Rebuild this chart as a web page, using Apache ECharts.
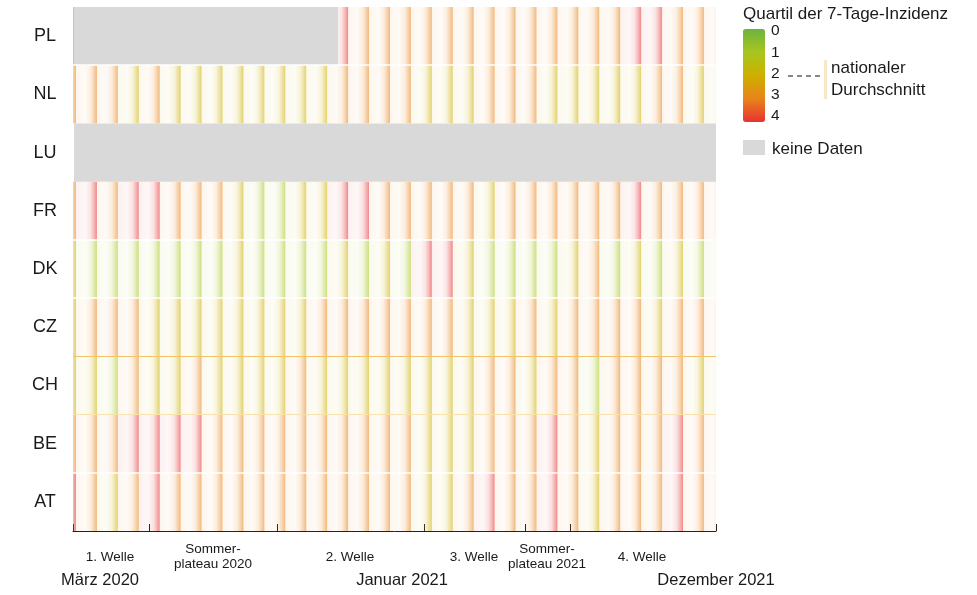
<!DOCTYPE html>
<html>
<head>
<meta charset="utf-8">
<script src="https://cdn.jsdelivr.net/npm/echarts@6/dist/echarts.min.js"></script>
<style>
  html, body { margin: 0; padding: 0; background: #fff; }
  #chart { width: 977px; height: 595px; }
</style>
</head>
<body>
<div id="chart"></div>
<script>
// Länder (von unten nach oben)
const countries = ['AT', 'BE', 'CH', 'CZ', 'DK', 'FR', 'LU', 'NL', 'PL'];

// Quartil der 7-Tage-Inzidenz je Zeitabschnitt (null = keine Daten)
const qAT = [4,3,2,3,4,3,3,3,3,3,3,3,3,3,3,3,3,2,2,3,4,3,3,4,3,2,3,3,3,4,3,3];
const qBE = [3,3,3,4,4,4,4,3,3,3,3,3,3,3,3,3,3,2,2,2,3,3,3,4,3,2,3,3,3,4,3,3];
const qCH = [2,2,1,3,2,2,3,2,2,2,2,3,2,2,2,2,2,2,2,2,3,3,2,3,3,1,3,3,3,3,2,2];
const qCZ = [2,3,3,3,2,2,2,2,2,2,2,2,3,3,3,3,3,3,3,2,2,2,3,2,3,3,3,3,2,3,3,3];
const qDK = [2,1,1,1,1,1,1,1,2,1,1,1,1,2,1,2,1,4,4,2,1,1,1,1,2,3,1,2,1,2,1,1];
const qFR = [3,4,3,4,4,3,3,3,2,1,1,2,2,4,4,3,3,3,3,3,2,3,3,3,3,3,3,4,3,3,3,3];
const qLU = [];
const qNL = [3,3,3,2,3,2,2,2,2,2,2,2,2,3,3,3,3,2,2,2,3,3,3,2,2,2,2,2,3,3,2,2];
const qPL = [4,null,null,null,null,null,null,null,null,null,null,null,null,4,3,3,3,3,3,3,3,3,3,3,3,3,3,4,4,3,3,3];
const quartileRows = [qAT, qBE, qCH, qCZ, qDK, qFR, qLU, qNL, qPL];

// keine Daten: [von, bis, Zeile]
const noDataRanges = [[0.05, 12.66, 8], [0.05, 30.72, 6]];

// Zeitachse
const X_MAX = 30.72;
const CELL_SHIFT = 0.857;
const periodBounds = [0, 3.63, 9.75, 16.77, 21.6, 23.75, 30.72];
const periodCenters = [1.77, 6.69, 13.23, 19.16, 22.65, 27.18];
const periodNames = ['1. Welle', 'Sommer-\nplateau 2020', '2. Welle', '3. Welle', 'Sommer-\nplateau 2021', '4. Welle'];
const monthPos = [1.29, 15.72, 30.72];
const monthNames = ['März 2020', 'Januar 2021', 'Dezember 2021'];

// Legende
const quartileTicks = [0, 1, 2, 3, 4];
const quartileColors = ['#6cb33f', '#a8c61e', '#cdb000', '#e8841a', '#e63232'];

const FONT = '"Liberation Sans", Arial, sans-serif';
const TEXT = '#1a1a1a';

const cellData = [];
quartileRows.forEach((row, r) => {
    row.forEach((q, k) => {
        if (q !== null) cellData.push([k, r, q]);
    });
});

function renderCell(params, api) {
    const k = api.value(0), r = api.value(1);
    const a = api.coord([k - CELL_SHIFT, r + 1]);
    const b = api.coord([k + 1 - CELL_SHIFT, r]);
    const shape = echarts.graphic.clipRectByRect(
        { x: a[0], y: a[1], width: b[0] - a[0], height: b[1] - a[1] },
        params.coordSys
    );
    if (!shape) return;
    const c = api.visual('color');
    const m = echarts.color.modifyAlpha;
    return {
        type: 'rect',
        shape: shape,
        style: {
            fill: new echarts.graphic.LinearGradient(a[0], 0, b[0], 0, [
                { offset: 0, color: m(c, 0.07) },
                { offset: 0.45, color: m(c, 0.04) },
                { offset: 0.7, color: m(c, 0.14) },
                { offset: 0.88, color: m(c, 0.38) },
                { offset: 1, color: m(c, 0.58) }
            ], true)
        }
    };
}

function renderNoData(params, api) {
    const a = api.coord([api.value(0), api.value(2) + 1]);
    const b = api.coord([api.value(1), api.value(2)]);
    const shape = echarts.graphic.clipRectByRect(
        { x: a[0], y: a[1], width: b[0] - a[0], height: b[1] - a[1] },
        params.coordSys
    );
    if (!shape) return;
    return { type: 'rect', shape: shape, style: { fill: '#d9d9d9' } };
}

function txt(text, x, y, size, align) {
    return {
        type: 'text', x: x, y: y, silent: true,
        style: {
            text: text, fill: TEXT, font: size + 'px ' + FONT,
            align: align || 'left', verticalAlign: 'middle',
            textAlign: align || 'left', textVerticalAlign: 'middle'
        }
    };
}

const chart = echarts.init(document.getElementById('chart'));

const graphics = [txt('Quartil der 7-Tage-Inzidenz', 743, 14, 17)];
quartileTicks.forEach((t, i) => {
    graphics.push(txt(String(t), 771, 31 + i * 21.3, 15.5));
    graphics.push({
        type: 'line', silent: true,
        shape: { x1: 760, y1: 30 + i * 21.5, x2: 764, y2: 30 + i * 21.5 },
        style: { stroke: '#fff', lineWidth: 1 }
    });
});
graphics.push({
    type: 'line', silent: true,
    shape: { x1: 788, y1: 76, x2: 822, y2: 76 },
    style: { stroke: '#111', lineWidth: 1, lineDash: [5, 4] }
});
graphics.push({
    type: 'rect', silent: true,
    shape: { x: 824, y: 60, width: 3, height: 39 },
    style: { fill: '#fae6c9' }
});
graphics.push(txt('nationaler', 831, 68, 17));
graphics.push(txt('Durchschnitt', 831, 90, 17));
graphics.push({
    type: 'rect', silent: true,
    shape: { x: 743, y: 140, width: 22, height: 15 },
    style: { fill: '#d9d9d9' }
});
graphics.push(txt('keine Daten', 772, 149, 17));

chart.setOption({
    animation: false,
    grid: { left: 73, right: 261, top: 7, bottom: 64, outerBoundsMode: 'none', containLabel: false },
    xAxis: [
        {
            type: 'value', position: 'bottom', min: 0, max: X_MAX, offset: 3,
            axisLine: { show: true, lineStyle: { color: '#222', width: 1 } },
            axisTick: { show: true, inside: true, length: 7, customValues: periodBounds, lineStyle: { color: '#222' } },
            axisLabel: { show: false },
            splitLine: { show: false }
        },
        {
            type: 'value', position: 'bottom', min: 0, max: X_MAX,
            axisLine: { show: false }, axisTick: { show: false }, splitLine: { show: false },
            axisLabel: {
                customValues: periodCenters,
                formatter: v => periodNames[periodCenters.indexOf(v)],
                margin: 26, verticalAlign: 'middle', lineHeight: 15,
                fontSize: 13.5, fontFamily: FONT, color: TEXT
            }
        },
        {
            type: 'value', position: 'bottom', min: 0, max: X_MAX,
            axisLine: { show: false }, axisTick: { show: false }, splitLine: { show: false },
            axisLabel: {
                customValues: monthPos,
                formatter: v => monthNames[monthPos.indexOf(v)],
                margin: 49, verticalAlign: 'middle',
                fontSize: 16.5, fontFamily: FONT, color: TEXT
            }
        }
    ],
    yAxis: {
        type: 'value', min: 0, max: countries.length,
        axisLine: { show: false }, axisTick: { show: false }, splitLine: { show: false },
        axisLabel: {
            customValues: countries.map((c, i) => i + 0.5),
            formatter: v => countries[Math.floor(v)],
            align: 'center', margin: 28,
            fontSize: 18, fontFamily: FONT, color: TEXT
        }
    },
    visualMap: {
        type: 'continuous', min: 0, max: 4, dimension: 2, seriesIndex: 0,
        inverse: true, calculable: false, hoverLink: false,
        left: 743, top: 29, itemWidth: 22, itemHeight: 93, padding: 0,
        inRange: { color: quartileColors }
    },
    graphic: graphics,
    series: [
        {
            type: 'custom', renderItem: renderCell, data: cellData,
            encode: { x: 0, y: 1 }, silent: true
        },
        {
            type: 'custom', renderItem: renderNoData, data: noDataRanges,
            encode: { x: [0, 1], y: 2 }, silent: true,
            markLine: {
                silent: true, symbol: 'none', label: { show: false },
                data: [
                    { yAxis: 1, lineStyle: { color: '#ffffff', width: 1.5, type: 'solid' } },
                    { yAxis: 4, lineStyle: { color: '#ffffff', width: 1.5, type: 'solid' } },
                    { yAxis: 5, lineStyle: { color: '#ffffff', width: 1.5, type: 'solid' } },
                    { yAxis: 8, lineStyle: { color: '#ffffff', width: 1.5, type: 'solid' } },
                    { yAxis: 3, lineStyle: { color: '#f3c36a', width: 1, type: 'solid' } },
                    { yAxis: 2, lineStyle: { color: '#f8e2ad', width: 1, type: 'solid' } }
                ]
            }
        }
    ]
});
</script>
</body>
</html>
